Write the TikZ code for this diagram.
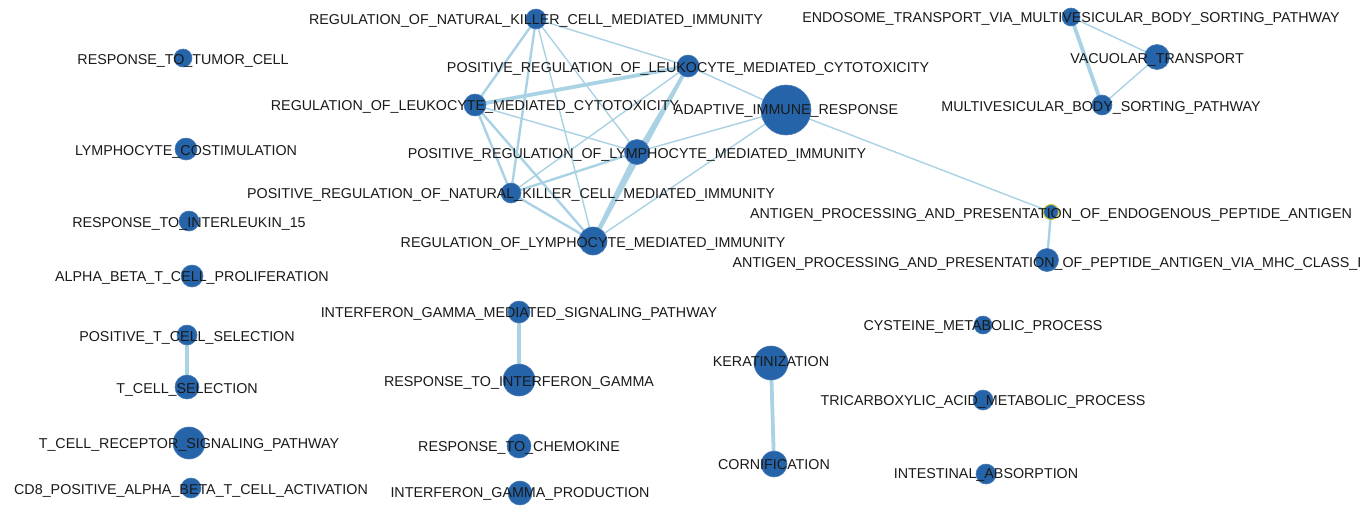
\documentclass[tikz,border=0pt]{standalone}
\usepackage{fontspec}
\setmainfont{Liberation Sans}
\usetikzlibrary{backgrounds}
\definecolor{nodeblue}{RGB}{38,100,170}
\definecolor{nodeedge}{RGB}{72,122,182}
\definecolor{edgeblue}{RGB}{170,210,229}
\definecolor{txt}{RGB}{25,25,25}
\definecolor{ringyellow}{RGB}{200,200,40}
\tikzset{
  gn/.style={circle, fill=nodeblue, draw=nodeedge, line width=0.6pt, inner sep=0pt, minimum size=#1},
  lab/.style={text=txt, inner sep=0pt, anchor=base, yshift=-5.1pt, font=\fontsize{14.3}{16}\selectfont},
  ethin/.style={draw=edgeblue, line width=1.4pt},
  emid/.style={draw=edgeblue, line width=2.4pt},
  ethick/.style={draw=edgeblue, line width=3.8pt},
}
\begin{document}
\begin{tikzpicture}[x=1pt,y=-1pt]
\useasboundingbox (0,0) rectangle (1372,507);
% nodes (circles)
\node[gn=20pt] (NK) at (536,19) {};
\node[gn=22pt] (PLC) at (688,66) {};
\node[gn=22pt] (RLC) at (475,105) {};
\node[gn=50pt] (AIR) at (786,110) {};
\node[gn=25pt] (PLM) at (637,152) {};
\node[gn=20pt] (PNK) at (511,193) {};
\node[gn=28pt] (RLM) at (593,241) {};
\node[gn=15pt, draw=ringyellow, line width=1pt] (APE) at (1051,212) {};
\node[gn=23pt] (APM) at (1047,260) {};
\node[gn=18pt] (ENDO) at (1071,17) {};
\node[gn=25pt] (VAC) at (1157,57) {};
\node[gn=20pt] (MVB) at (1102,105) {};
\node[gn=18pt] (TUMOR) at (183,58) {};
\node[gn=22pt] (LYCOS) at (186,149) {};
\node[gn=20pt] (IL15) at (189,221) {};
\node[gn=22pt] (ABPROL) at (192,276) {};
\node[gn=22pt] (IFNGMED) at (519,312) {};
\node[gn=20pt] (PTSEL) at (187,335) {};
\node[gn=18pt] (CYST) at (983,325) {};
\node[gn=34pt] (KER) at (771,363) {};
\node[gn=32pt] (RIFNG) at (519,380) {};
\node[gn=24pt] (TSEL) at (187,387) {};
\node[gn=20pt] (TCA) at (983,400) {};
\node[gn=32pt] (TCR) at (189,443) {};
\node[gn=24pt] (CHEMO) at (519,446) {};
\node[gn=26pt] (CORN) at (774,464) {};
\node[gn=20pt] (INTEST) at (986,474) {};
\node[gn=20pt] (CD8) at (191,488) {};
\node[gn=24pt] (IFNGPROD) at (520,493) {};
% labels
\node[lab] (lNK) at (536,19) {REGULATION\_OF\_NATURAL\_KILLER\_CELL\_MEDIATED\_IMMUNITY};
\node[lab] (lPLC) at (688,67) {POSITIVE\_REGULATION\_OF\_LEUKOCYTE\_MEDIATED\_CYTOTOXICITY};
\node[lab] (lRLC) at (475,105) {REGULATION\_OF\_LEUKOCYTE\_MEDIATED\_CYTOTOXICITY};
\node[lab] (lAIR) at (786,109) {ADAPTIVE\_IMMUNE\_RESPONSE};
\node[lab] (lPLM) at (637,153) {POSITIVE\_REGULATION\_OF\_LYMPHOCYTE\_MEDIATED\_IMMUNITY};
\node[lab] (lPNK) at (511,193) {POSITIVE\_REGULATION\_OF\_NATURAL\_KILLER\_CELL\_MEDIATED\_IMMUNITY};
\node[lab] (lRLM) at (593,242) {REGULATION\_OF\_LYMPHOCYTE\_MEDIATED\_IMMUNITY};
\node[lab] (lAPE) at (1051,213) {ANTIGEN\_PROCESSING\_AND\_PRESENTATION\_OF\_ENDOGENOUS\_PEPTIDE\_ANTIGEN};
\node[lab] (lAPM) at (1047,262) {ANTIGEN\_PROCESSING\_AND\_PRESENTATION\_OF\_PEPTIDE\_ANTIGEN\_VIA\_MHC\_CLASS\_I};
\node[lab] (lENDO) at (1071,17) {ENDOSOME\_TRANSPORT\_VIA\_MULTIVESICULAR\_BODY\_SORTING\_PATHWAY};
\node[lab] (lVAC) at (1157,58) {VACUOLAR\_TRANSPORT};
\node[lab] (lMVB) at (1101,106) {MULTIVESICULAR\_BODY\_SORTING\_PATHWAY};
\node[lab] (lTUMOR) at (183,59) {RESPONSE\_TO\_TUMOR\_CELL};
\node[lab] (lLYCOS) at (186,150) {LYMPHOCYTE\_COSTIMULATION};
\node[lab] (lIL15) at (189,222) {RESPONSE\_TO\_INTERLEUKIN\_15};
\node[lab] (lABPROL) at (192,276) {ALPHA\_BETA\_T\_CELL\_PROLIFERATION};
\node[lab] (lIFNGMED) at (519,312) {INTERFERON\_GAMMA\_MEDIATED\_SIGNALING\_PATHWAY};
\node[lab] (lPTSEL) at (187,336) {POSITIVE\_T\_CELL\_SELECTION};
\node[lab] (lCYST) at (983,325) {CYSTEINE\_METABOLIC\_PROCESS};
\node[lab] (lKER) at (771,361) {KERATINIZATION};
\node[lab] (lRIFNG) at (519,381) {RESPONSE\_TO\_INTERFERON\_GAMMA};
\node[lab] (lTSEL) at (187,388) {T\_CELL\_SELECTION};
\node[lab] (lTCA) at (983,400) {TRICARBOXYLIC\_ACID\_METABOLIC\_PROCESS};
\node[lab] (lTCR) at (189,443) {T\_CELL\_RECEPTOR\_SIGNALING\_PATHWAY};
\node[lab] (lCHEMO) at (519,446) {RESPONSE\_TO\_CHEMOKINE};
\node[lab] (lCORN) at (774,464) {CORNIFICATION};
\node[lab] (lINTEST) at (986,473) {INTESTINAL\_ABSORPTION};
\node[lab] (lCD8) at (191,489) {CD8\_POSITIVE\_ALPHA\_BETA\_T\_CELL\_ACTIVATION};
\node[lab] (lIFNGPROD) at (520,492) {INTERFERON\_GAMMA\_PRODUCTION};
% edges behind
\begin{scope}[on background layer]
\fill[white] (0,0) rectangle (1372,507);
\draw[ethin] (NK.center) -- (PLC.center);
\draw[emid] (NK.center) -- (RLC.center);
\draw[emid] (NK.center) -- (PNK.center);
\draw[ethin] (NK.center) -- (RLM.center);
\draw[ethin] (NK.center) -- (PLM.center);
\draw[ethick] (RLC.center) -- (PLC.center);
\draw[emid] (RLC.center) -- (PNK.center);
\draw[emid] (RLC.center) -- (RLM.center);
\draw[ethin] (RLC.center) -- (PLM.center);
\draw[ethin] (PLC.center) -- (PNK.center);
\draw[emid] (PLC.center) -- (PLM.center);
\draw[ethick] (PLC.center) -- (RLM.center);
\draw[ethin] (PLC.center) -- (AIR.center);
\draw[emid] (PLM.center) -- (PNK.center);
\draw[ethick] (PLM.center) -- (RLM.center);
\draw[emid] (PNK.center) -- (RLM.center);
\draw[ethin] (AIR.center) -- (PLM.center);
\draw[ethin] (AIR.center) -- (RLM.center);
\draw[ethin] (AIR.center) -- (APE.center);
\draw[emid] (APE.center) -- (APM.center);
\draw[ethin] (ENDO.center) -- (VAC.center);
\draw[ethick] (ENDO.center) -- (MVB.center);
\draw[ethin] (VAC.center) -- (MVB.center);
\draw[ethick] (IFNGMED.center) -- (RIFNG.center);
\draw[ethick] (PTSEL.center) -- (TSEL.center);
\draw[ethick] (KER.center) -- (CORN.center);
\end{scope}
\end{tikzpicture}
\end{document}
